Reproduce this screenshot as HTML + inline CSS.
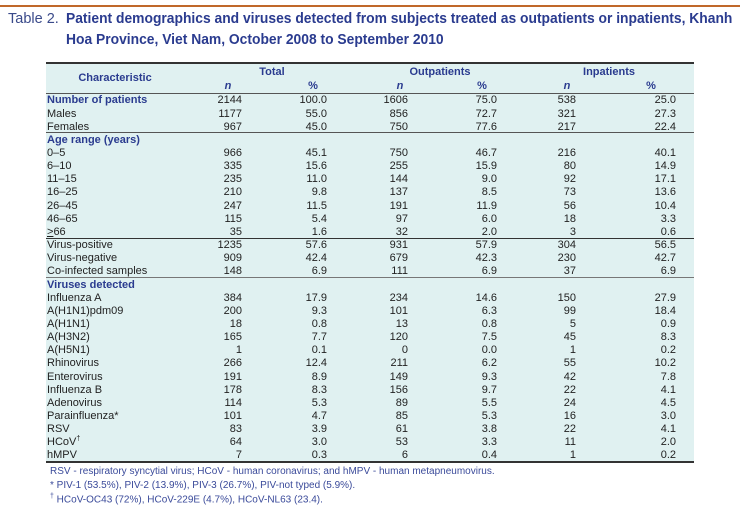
<!DOCTYPE html>
<html><head><meta charset="utf-8"><style>
body{margin:0;width:740px;height:507px;background:#fff;position:relative;overflow:hidden;font-family:"Liberation Sans",sans-serif;}
.a{position:absolute;white-space:nowrap;}
.r{position:absolute;left:46px;width:648px;height:13.15px;font-size:11px;line-height:13.15px;color:#222;}
.r span{position:absolute;}
.h{color:#2a3b8f;font-weight:bold;}
.hd{position:absolute;font-size:11px;color:#2a3b8f;font-weight:bold;transform:translateX(-50%);}
.ln{position:absolute;left:46px;width:648px;}
.fn{position:absolute;left:50px;font-size:10px;color:#3a4a9a;white-space:nowrap;}
</style></head><body>
<div class="a" style="left:0;top:5px;width:740px;height:2px;background:#c0682a"></div>
<div class="a" style="left:8px;top:11px;font-size:14.5px;color:#3a4a8a;">Table 2.</div>
<div class="a" style="left:66px;top:11px;font-size:14.5px;font-weight:bold;color:#2a3b8f;transform:scaleX(0.955);transform-origin:left;">Patient demographics and viruses detected from subjects treated as outpatients or inpatients, Khanh</div>
<div class="a" style="left:66px;top:32px;font-size:14.5px;font-weight:bold;color:#2a3b8f;transform:scaleX(0.955);transform-origin:left;">Hoa Province, Viet Nam, October 2008 to September 2010</div>
<div class="a" style="left:46px;top:62px;width:648px;height:400px;background:#e0f1f1"></div>
<div class="ln" style="top:62px;height:2px;background:#333"></div>
<div class="hd" style="left:115px;top:72px">Characteristic</div>
<div class="hd" style="left:272px;top:66px">Total</div>
<div class="hd" style="left:440px;top:66px">Outpatients</div>
<div class="hd" style="left:609px;top:66px">Inpatients</div>
<div class="hd" style="left:228px;top:80px;font-style:italic">n</div>
<div class="hd" style="left:313px;top:80px">%</div>
<div class="hd" style="left:400px;top:80px;font-style:italic">n</div>
<div class="hd" style="left:482px;top:80px">%</div>
<div class="hd" style="left:567px;top:80px;font-style:italic">n</div>
<div class="hd" style="left:651px;top:80px">%</div>
<div class="ln" style="top:93px;height:1px;background:#555"></div>
<div class="ln" style="top:132px;height:1px;background:#555"></div>
<div class="ln" style="top:238px;height:1px;background:#333"></div>
<div class="ln" style="top:277px;height:1px;background:#777"></div>
<div class="ln" style="top:461px;height:2px;background:#333"></div>
<div id="rows"></div>
<div class="fn" style="top:466px">RSV - respiratory syncytial virus; HCoV - human coronavirus; and hMPV - human metapneumovirus.</div>
<div class="fn" style="top:480px">* PIV-1 (53.5%), PIV-2 (13.9%), PIV-3 (26.7%), PIV-not typed (5.9%).</div>
<div class="fn" style="top:493px"><sup style="font-size:7px">†</sup> HCoV-OC43 (72%), HCoV-229E (4.7%), HCoV-NL63 (23.4).</div>
<script>
var d=[["Number of patients",1,"2144","100.0","1606","75.0","538","25.0"],
["Males",0,"1177","55.0","856","72.7","321","27.3"],
["Females",0,"967","45.0","750","77.6","217","22.4"],
["Age range (years)",1],
["0–5",0,"966","45.1","750","46.7","216","40.1"],
["6–10",0,"335","15.6","255","15.9","80","14.9"],
["11–15",0,"235","11.0","144","9.0","92","17.1"],
["16–25",0,"210","9.8","137","8.5","73","13.6"],
["26–45",0,"247","11.5","191","11.9","56","10.4"],
["46–65",0,"115","5.4","97","6.0","18","3.3"],
["<u>&gt;</u>66",0,"35","1.6","32","2.0","3","0.6"],
["Virus-positive",0,"1235","57.6","931","57.9","304","56.5"],
["Virus-negative",0,"909","42.4","679","42.3","230","42.7"],
["Co-infected samples",0,"148","6.9","111","6.9","37","6.9"],
["Viruses detected",1],
["Influenza A",0,"384","17.9","234","14.6","150","27.9"],
["A(H1N1)pdm09",0,"200","9.3","101","6.3","99","18.4"],
["A(H1N1)",0,"18","0.8","13","0.8","5","0.9"],
["A(H3N2)",0,"165","7.7","120","7.5","45","8.3"],
["A(H5N1)",0,"1","0.1","0","0.0","1","0.2"],
["Rhinovirus",0,"266","12.4","211","6.2","55","10.2"],
["Enterovirus",0,"191","8.9","149","9.3","42","7.8"],
["Influenza B",0,"178","8.3","156","9.7","22","4.1"],
["Adenovirus",0,"114","5.3","89","5.5","24","4.5"],
["Parainfluenza*",0,"101","4.7","85","5.3","16","3.0"],
["RSV",0,"83","3.9","61","3.8","22","4.1"],
["HCoV<sup style='font-size:7px;line-height:0'>†</sup>",0,"64","3.0","53","3.3","11","2.0"],
["hMPV",0,"7","0.3","6","0.4","1","0.2"]];
var R=[242,327,408,497,576,676],h="";
d.forEach(function(r,i){h+='<div class="r" style="top:'+(94.4+i*13.15)+'px"><span class="'+(r[1]?'h':'')+'" style="left:1px">'+r[0]+'</span>';
for(var j=2;j<r.length;j++)h+='<span style="right:'+(694-R[j-2])+'px">'+r[j]+'</span>';h+='</div>';});
document.getElementById("rows").innerHTML=h;
</script>
</body></html>
